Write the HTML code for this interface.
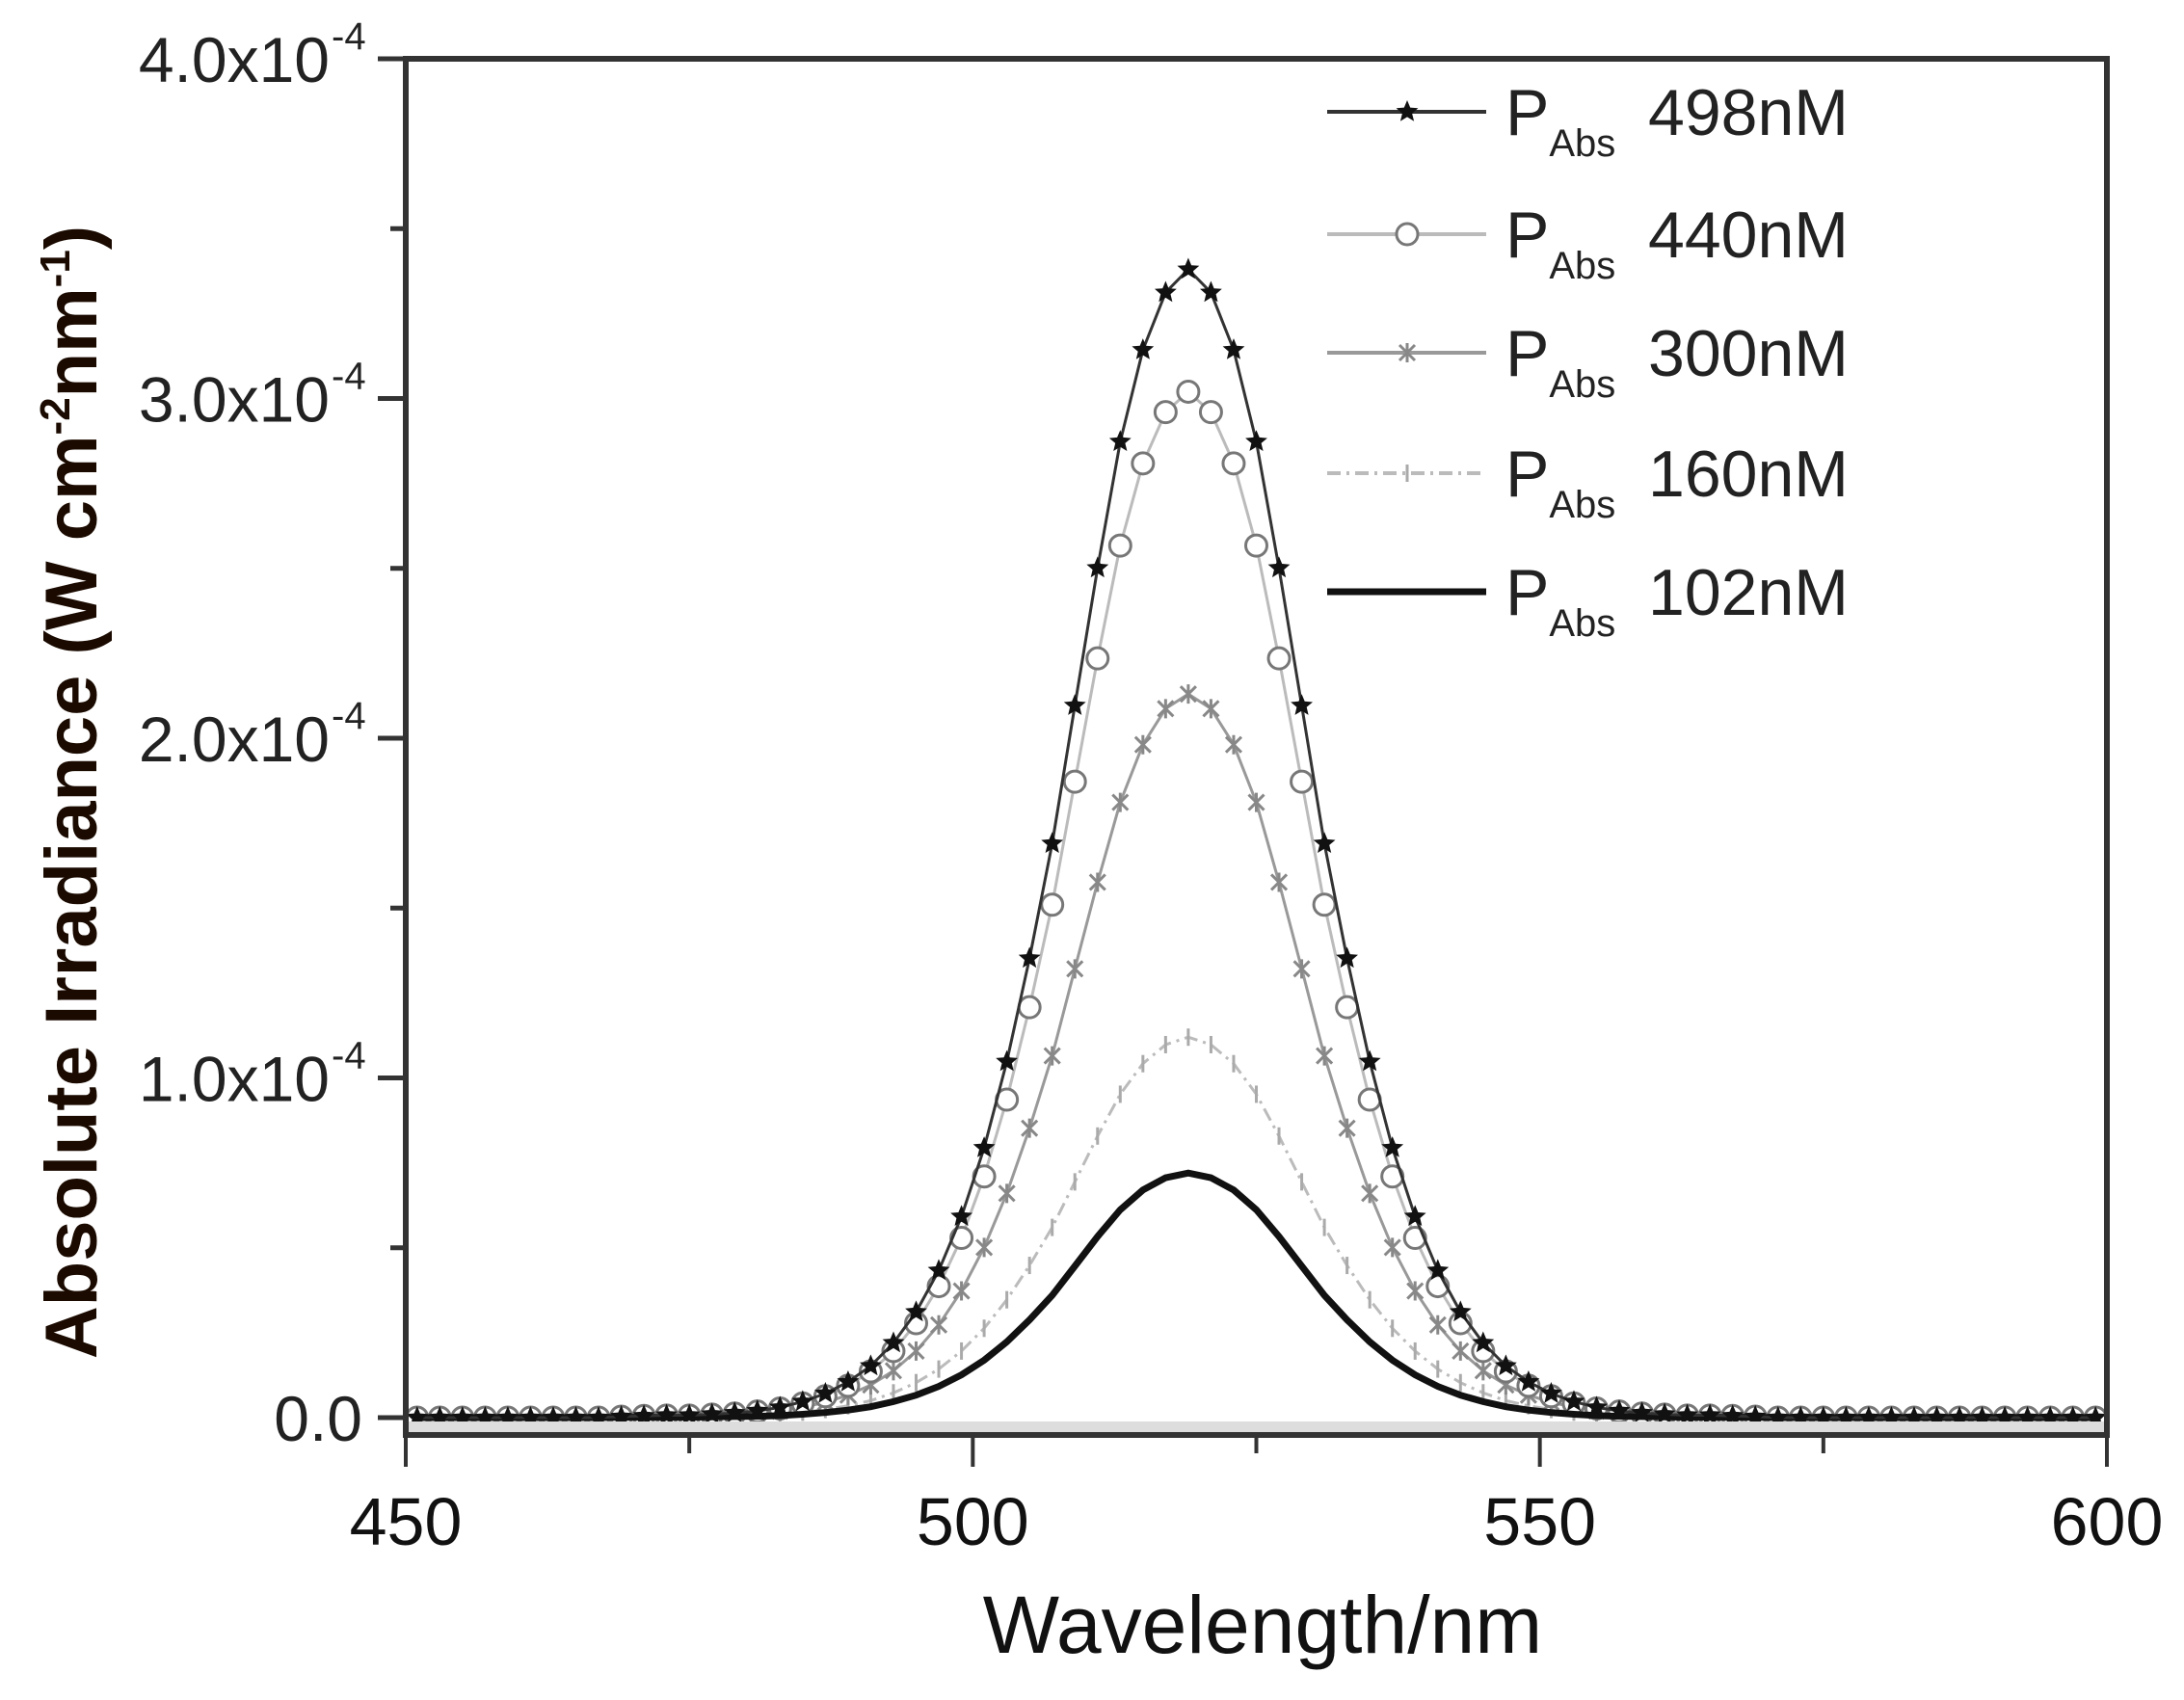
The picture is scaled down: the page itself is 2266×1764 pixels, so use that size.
<!DOCTYPE html>
<html><head><meta charset="utf-8"><style>
html,body{margin:0;padding:0;background:#fff;}
svg{display:block;font-family:"Liberation Sans",sans-serif;}
</style></head><body>
<svg id="chart" width="2266" height="1764" viewBox="0 0 2266 1764" xmlns="http://www.w3.org/2000/svg">
<rect width="2266" height="1764" fill="#fff"/>
<g id="plot"></g>
<g id="axes"></g>
<g id="legend"></g>
<text x="1310" y="1715" font-size="84" text-anchor="middle" fill="#111">Wavelength/nm</text>
<text transform="translate(100,822) rotate(-90)" font-size="76" font-weight="bold" text-anchor="middle" fill="#1a0a00">Absolute Irradiance (W cm<tspan dy="-28" font-size="44">-2</tspan><tspan dy="28">nm</tspan><tspan dy="-28" font-size="44">-1</tspan><tspan dy="28">)</tspan></text>
</svg>
<script>
const wavelengths = [];
for (let w = 451; w <= 599; w += 2) wavelengths.push(w);
const seriesLabels = ["498nM","440nM","300nM","160nM","102nM"];
const s498 = [0,0,0,0,0,0,0,0,0,.003,.005,.007,.007,.01,.014,.02,.03,.047,.071,.105,.152,.22,.311,.433,.592,.794,1.048,1.352,1.69,2.096,2.501,2.873,3.143,3.312,3.38,3.312,3.143,2.873,2.501,2.096,1.69,1.352,1.048,.794,.592,.433,.311,.22,.152,.105,.071,.047,.03,.02,.014,.01,.007,.007,.005,.003,0,0,0,0,0,0,0,0,0,0,0,0,0,0,0];
const s440 = [0,0,0,0,0,0,0,0,0,.003,.005,.006,.006,.009,.012,.018,.027,.042,.063,.094,.136,.196,.278,.387,.529,.71,.936,1.208,1.51,1.872,2.235,2.567,2.809,2.96,3.02,2.96,2.809,2.567,2.235,1.872,1.51,1.208,.936,.71,.529,.387,.278,.196,.136,.094,.063,.042,.027,.018,.012,.009,.006,.006,.005,.003,0,0,0,0,0,0,0,0,0,0,0,0,0,0,0];
const s300 = [0,0,0,0,0,0,0,0,0,.002,.003,.004,.004,.006,.009,.013,.019,.03,.045,.066,.096,.138,.196,.273,.373,.501,.66,.852,1.065,1.321,1.576,1.811,1.981,2.087,2.13,2.087,1.981,1.811,1.576,1.321,1.065,.852,.66,.501,.373,.273,.196,.138,.096,.066,.045,.03,.019,.013,.009,.006,.004,.004,.003,.002,0,0,0,0,0,0,0,0,0,0,0,0,0,0,0];
const s160 = [0,0,0,0,0,0,0,0,0,.001,.002,.002,.002,.003,.004,.007,.01,.016,.024,.035,.05,.073,.103,.143,.196,.263,.347,.448,.56,.694,.829,.952,1.042,1.098,1.12,1.098,1.042,.952,.829,.694,.56,.448,.347,.263,.196,.143,.103,.073,.05,.035,.024,.016,.01,.007,.004,.003,.002,.002,.002,.001,0,0,0,0,0,0,0,0,0,0,0,0,0,0,0];
const s102 = [0,0,0,0,0,0,0,0,0,.001,.001,.001,.001,.002,.003,.004,.006,.01,.015,.022,.032,.047,.066,.092,.126,.169,.223,.288,.36,.446,.533,.612,.67,.706,.72,.706,.67,.612,.533,.446,.36,.288,.223,.169,.126,.092,.066,.047,.032,.022,.015,.01,.006,.004,.003,.002,.001,.001,.001,.001,0,0,0,0,0,0,0,0,0,0,0,0,0,0,0];
const xTicks = [450,500,550,600];
const xMinor = [475,525,575];
const yTicks = [0,1,2,3,4];
const yTickLabels = ["0.0","1.0x10","2.0x10","3.0x10","4.0x10"];

const NS="http://www.w3.org/2000/svg";
const X0=421,X1=2186,Y0=1471,YT=61;
const xs=w=>X0+(w-450)/150*(X1-X0);
const ys=v=>Y0-v/4*(Y0-YT);
function mk(tag,attrs,parent){const e=document.createElementNS(NS,tag);for(const k in attrs)e.setAttribute(k,attrs[k]);parent.appendChild(e);return e;}
const plot=document.getElementById('plot'),axes=document.getElementById('axes'),legend=document.getElementById('legend');

let band=mk('rect',{x:X0,y:Y0+4,width:X1-X0,height:14,fill:'#ddd'},axes);


let frame=mk('rect',{x:X0,y:YT,width:X1-X0,height:1489-YT,fill:'none',stroke:'#333','stroke-width':6},axes);


xTicks.forEach(t=>{
  const l=mk('line',{x1:xs(t),x2:xs(t),y1:1489,y2:1522,stroke:'#333','stroke-width':4},axes);
  
  
  const tx=mk('text',{x:xs(t),y:1603,'font-size':70,'text-anchor':'middle',fill:'#111'},axes);
  tx.textContent=t;
  
  
});
xMinor.forEach(t=>{
  const l=mk('line',{x1:xs(t),x2:xs(t),y1:1489,y2:1508,stroke:'#333','stroke-width':4},axes);
  
  
});
yTicks.forEach((t,i)=>{
  const l=mk('line',{x1:392,x2:X0,y1:ys(t),y2:ys(t),stroke:'#333','stroke-width':5},axes);
  
  
  if(t<4){const m=mk('line',{x1:405,x2:X0,y1:ys(t+0.5),y2:ys(t+0.5),stroke:'#333','stroke-width':5},axes);
  
  }
  const tx=mk('text',{x:t===0?376:342,y:ys(t)+24,'font-size':66,'text-anchor':'end',fill:'#222'},axes);
  tx.textContent=yTickLabels[i];
  
  
  if(t>0){const sp=mk('text',{x:344,y:ys(t)-10,'font-size':40,'text-anchor':'start',fill:'#222'},axes);
  sp.textContent='-4';
  
  }
});

function path(arr){return arr.map((v,i)=>(i?'L':'M')+xs(wavelengths[i]).toFixed(1)+','+ys(v).toFixed(1)).join('');}
function star(cx,cy,r){let p='';for(let k=0;k<10;k++){const a=-Math.PI/2+k*Math.PI/5,rr=k%2?r*0.45:r;p+=(k?'L':'M')+(cx+rr*Math.cos(a)).toFixed(1)+','+(cy+rr*Math.sin(a)).toFixed(1);}return p+'Z';}
function marker(type,cx,cy,g){
  let e;
  if(type==='star') e=mk('path',{d:star(cx,cy,12),fill:'#111'},g);
  else if(type==='circle') e=mk('circle',{cx:cx,cy:cy,r:11,fill:'#fff',stroke:'#777','stroke-width':3},g);
  else if(type==='asterisk') e=mk('path',{d:`M${cx-8},${cy-8}L${cx+8},${cy+8}M${cx-8},${cy+8}L${cx+8},${cy-8}M${cx},${cy-10}L${cx},${cy+10}`,stroke:'#888','stroke-width':3},g);
  else if(type==='tick') e=mk('path',{d:`M${cx},${cy-9}L${cx},${cy+9}`,stroke:'#aaa','stroke-width':3},g);
  if(e){
  }
}
const seriesData=[s160,s300,s440,s102,s498];
const seriesStyle=[
 {m:'tick',c:'#bbb',w:3,dash:'14 6 3 6',name:'series-160nm'},
 {m:'asterisk',c:'#999',w:3,dash:'',name:'series-300nm'},
 {m:'circle',c:'#bbb',w:3,dash:'',name:'series-440nm'},
 {m:'',c:'#111',w:7,dash:'',name:'series-102nm'},
 {m:'star',c:'#333',w:3,dash:'',name:'series-498nm'}];
seriesData.forEach((arr,si)=>{
  const st=seriesStyle[si];
  const g=mk('g',{},plot);
  
  
  const ln=mk('path',{d:path(arr),fill:'none',stroke:st.c,'stroke-width':st.w,'stroke-dasharray':st.dash},g);
  
  
  if(st.m) arr.forEach((v,i)=>marker(st.m,xs(wavelengths[i]),ys(v),g));
});

const legY=[116,243,366,491,614];
const legStyle=[
 {m:'star',c:'#333',w:4,dash:''},
 {m:'circle',c:'#bbb',w:4,dash:''},
 {m:'asterisk',c:'#999',w:4,dash:''},
 {m:'tick',c:'#bbb',w:4,dash:'14 6 3 6'},
 {m:'',c:'#111',w:7,dash:''}];
seriesLabels.forEach((lab,i)=>{
  const g=mk('g',{},legend);
  
  
  const st=legStyle[i];
  const ln=mk('line',{x1:1377,x2:1542,y1:legY[i],y2:legY[i],stroke:st.c,'stroke-width':st.w,'stroke-dasharray':st.dash},g);
  
  
  if(st.m) marker(st.m,1460,legY[i],g);
  const t=mk('text',{x:1562,y:legY[i]+24,'font-size':68,fill:'#222'},g);
  
  
  const p=document.createElementNS(NS,'tspan');p.textContent='P';t.appendChild(p);
  const s=document.createElementNS(NS,'tspan');s.setAttribute('font-size','40');s.setAttribute('dy','22');s.textContent='Abs';t.appendChild(s);
  const r=document.createElementNS(NS,'tspan');r.setAttribute('dy','-22');r.setAttribute('x','1710');r.textContent=lab;t.appendChild(r);
});
</script>
</body></html>
